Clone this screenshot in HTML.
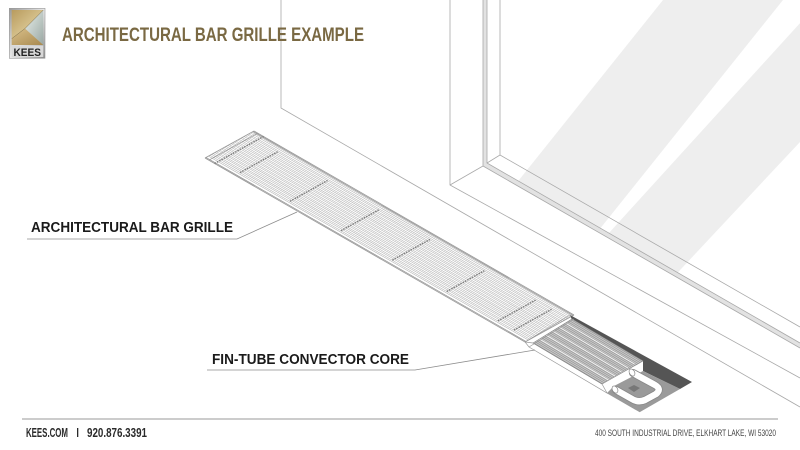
<!DOCTYPE html>
<html><head><meta charset="utf-8"><style>
html,body{margin:0;padding:0;background:#fff;}
svg{display:block;}
text{font-family:"Liberation Sans",Arial,sans-serif;}
</style></head><body>
<svg width="800" height="450" viewBox="0 0 800 450" xmlns="http://www.w3.org/2000/svg">
<defs>
  <clipPath id="glass"><polygon points="487,0 800,0 800,348 483,166 487,163"/></clipPath>
  <pattern id="hatch" patternUnits="userSpaceOnUse" width="20" height="1.7" patternTransform="rotate(30.7)">
    <rect width="20" height="1.7" fill="#cacaca"/><rect width="20" height="0.6" fill="#8c8c8c"/>
  </pattern>
  <linearGradient id="gold1" x1="0" y1="0" x2="1" y2="1"><stop offset="0" stop-color="#b89b5e"/><stop offset="1" stop-color="#efe2b4"/></linearGradient>
  <linearGradient id="gold2" x1="0" y1="0" x2="1" y2="1"><stop offset="0" stop-color="#d9c08a"/><stop offset="1" stop-color="#a8894f"/></linearGradient>
  <linearGradient id="silv" x1="0" y1="0" x2="1" y2="1"><stop offset="0" stop-color="#e9f0ec"/><stop offset="1" stop-color="#9aa8a3"/></linearGradient>
  <linearGradient id="frame" x1="0" y1="0" x2="1" y2="1"><stop offset="0" stop-color="#9a9a9a"/><stop offset=".5" stop-color="#e8e8e8"/><stop offset="1" stop-color="#8a8a8a"/></linearGradient>
</defs>

<!-- glass highlight bands -->
<g clip-path="url(#glass)" fill="#eeeeee">
  <polygon points="663,0 783,0 543,300 423,300"/>
  <polygon points="821,0 933,0 652,300 548,300"/>
</g>

<!-- window frame strip -->
<polygon points="483,0 487,0 487,163 800,343 800,348 483,166" fill="#e2e2e2"/>

<g stroke="#a9a9a9" stroke-width="0.8" fill="none">
  <polyline points="281,0 281,108 800,407"/>
  <polyline points="450,0 450,185 800,378"/>
  <line x1="450" y1="185" x2="483" y2="166"/>
  <polyline points="483,0 483,166 800,348"/>
  <polyline points="487,0 487,163 800,343"/>
  <polyline points="500,0 500,155 800,327"/>
  <line x1="487" y1="163" x2="500" y2="155"/>
</g>

<!-- grille -->
<g transform="matrix(320,184,49,-27,205,158)" fill="none" stroke="#b0b0b0" stroke-width="0.55">
  <path vector-effect="non-scaling-stroke" d="M0 .07H1M0 .10H1M0 .136H1M0 .166H1M0 .202H1M0 .232H1M0 .268H1M0 .298H1M0 .334H1M0 .364H1M0 .40H1M0 .43H1M0 .466H1M0 .496H1M0 .532H1M0 .562H1M0 .598H1M0 .628H1M0 .664H1M0 .694H1M0 .73H1M0 .76H1M0 .796H1M0 .826H1M0 .862H1M0 .892H1M0 .928H1M0 .958H1"/>
  <path vector-effect="non-scaling-stroke" stroke="#999" stroke-width="0.8" d="M0 0H1M0 .02H1M0 1H1M0 .98H1M0 0V1M.012 0V1M1 0V1"/>
</g>
<g stroke="#7e7e7e" stroke-width="1.4" stroke-dasharray="1.6 1" fill="none">
  <line x1="214.6" y1="163.5" x2="263.6" y2="136.5"/>
  <line x1="240" y1="172.6" x2="277.7" y2="151.8"/>
  <line x1="290" y1="201.3" x2="327.6" y2="180.5"/>
  <line x1="341" y1="230.7" x2="378.8" y2="209.9"/>
  <line x1="392.3" y1="260.2" x2="430" y2="239.4"/>
  <line x1="446.7" y1="291.5" x2="484.4" y2="270.7"/>
  <line x1="497.9" y1="320.9" x2="535.6" y2="300.1"/>
  <line x1="513.9" y1="330.1" x2="551.6" y2="309.3"/>
</g>

<!-- convector core -->
<polygon points="570,315 692,382 680,389 643,371 643,361 572,320" fill="#555"/>
<polygon points="643,371 680,389 640,412 607,393 614,386" fill="#9a9a9a"/>
<polygon points="525,342 533,343 602,384 607,393 529,347" fill="#fff" stroke="#9a9a9a" stroke-width="0.7"/>
<polygon points="533,343 572,319 643,361 602,384" fill="url(#hatch)"/>
<g stroke="#f4f4f4" stroke-width="1" fill="none">
  <line x1="539.5" y1="339" x2="608.5" y2="380"/>
  <line x1="546" y1="335" x2="615" y2="376"/>
  <line x1="552.5" y1="331" x2="621.5" y2="372"/>
  <line x1="559" y1="327" x2="628" y2="368"/>
  <line x1="565.5" y1="323" x2="634.5" y2="364"/>
</g>
<polygon points="533,343 572,319 643,361 602,384" fill="none" stroke="#888" stroke-width="0.6"/>
<g stroke="#999" stroke-width="0.7" fill="none">
  <line x1="525" y1="342" x2="570" y2="315"/>
  <line x1="529" y1="347" x2="574" y2="319"/>
  <line x1="607" y1="393" x2="640" y2="412"/>
</g>
<!-- U-bend tubes -->
<path d="M633,373 L655,385 Q662,389 656,394 L645,400 Q638,403 632,399 L616,390" fill="none" stroke="#888" stroke-width="8" stroke-linecap="round" stroke-linejoin="round"/>
<path d="M633,373 L655,385 Q662,389 656,394 L645,400 Q638,403 632,399 L616,390" fill="none" stroke="#fff" stroke-width="6.4" stroke-linecap="round" stroke-linejoin="round"/>
<polygon points="628,388 634,385 640,388 634,392" fill="#777"/>
<ellipse cx="632" cy="372.5" rx="2.6" ry="3.8" transform="rotate(-30 632 372.5)" fill="#fff" stroke="#888" stroke-width="0.7"/>
<ellipse cx="615" cy="389.5" rx="2.6" ry="3.8" transform="rotate(-30 615 389.5)" fill="#fff" stroke="#888" stroke-width="0.7"/>

<!-- leaders -->
<g stroke="#8c8c8c" stroke-width="0.8" fill="none">
  <polyline points="27,239 237,239 297,212"/>
  <polyline points="207,370 415,370 535,350"/>
</g>
<text x="31" y="232" font-size="14.5" font-weight="bold" fill="#1a1a1a" textLength="202" lengthAdjust="spacingAndGlyphs">ARCHITECTURAL BAR GRILLE</text>
<text x="212" y="364" font-size="14.5" font-weight="bold" fill="#1a1a1a" textLength="197" lengthAdjust="spacingAndGlyphs">FIN-TUBE CONVECTOR CORE</text>

<!-- title -->
<text x="62" y="41" font-size="19.5" font-weight="bold" fill="#7a6943" textLength="302" lengthAdjust="spacingAndGlyphs">ARCHITECTURAL BAR GRILLE EXAMPLE</text>

<!-- logo -->
<rect x="9.3" y="8.3" width="35.7" height="50" fill="url(#frame)" stroke="#9a9a9a" stroke-width="0.6"/>
<polygon points="11.7,10 43.3,10 25,28.5 11.7,38.7" fill="url(#gold1)"/>
<polygon points="43.3,10 43.3,45 25,28.5" fill="url(#silv)"/>
<polygon points="11.7,38.7 25,28.5 43.3,45 11.7,45" fill="url(#gold2)"/>
<polyline points="43.3,10 25,28.5 11.7,38.7" fill="none" stroke="#7a6a45" stroke-width="0.5"/>
<rect x="11.7" y="45.5" width="31.6" height="11.5" fill="#d8d8d8"/>
<text x="13.5" y="56" font-size="11" font-weight="bold" fill="#222" textLength="27.5" lengthAdjust="spacingAndGlyphs">KEES</text>

<!-- footer -->
<line x1="22" y1="419" x2="778" y2="419" stroke="#999" stroke-width="1"/>
<text x="26" y="437" font-size="12.5" font-weight="bold" fill="#2a2a2a" textLength="42" lengthAdjust="spacingAndGlyphs">KEES.COM</text>
<rect x="77" y="428" width="1.3" height="9" fill="#2a2a2a"/>
<text x="87" y="437" font-size="12.5" font-weight="bold" fill="#2a2a2a" textLength="60" lengthAdjust="spacingAndGlyphs">920.876.3391</text>
<text x="595" y="436" font-size="8.8" fill="#444" textLength="181" lengthAdjust="spacingAndGlyphs">400 SOUTH INDUSTRIAL DRIVE, ELKHART LAKE, WI 53020</text>
</svg>
</body></html>
